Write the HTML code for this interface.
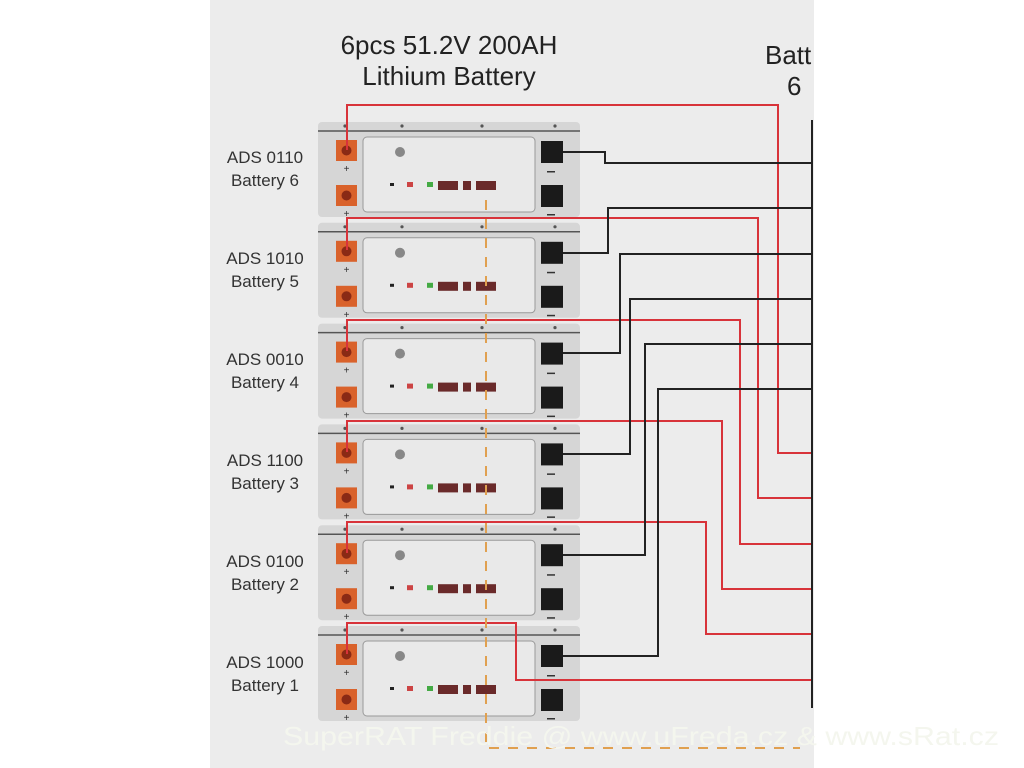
<!DOCTYPE html>
<html><head><meta charset="utf-8"><style>
html,body{margin:0;padding:0;background:#fff;width:1024px;height:768px;overflow:hidden}
svg{display:block;font-family:"Liberation Sans","DejaVu Sans",sans-serif}
</style></head><body>
<svg id="s" width="1024" height="768" viewBox="0 0 1024 768">
<rect x="210" y="0" width="604" height="768" fill="#ececec"/>
<g id="bats"></g>
<g fill="none" stroke-width="2">
<polyline stroke="#d8333a" points="347,150 347,105 778,105 778,453 812,453"/>
<polyline stroke="#d8333a" points="347,250 347,218 758,218 758,498 812,498"/>
<polyline stroke="#d8333a" points="347,351 347,320 740,320 740,544 812,544"/>
<polyline stroke="#d8333a" points="347,452 347,421 722,421 722,589 812,589"/>
<polyline stroke="#d8333a" points="347,553 347,522 706,522 706,634 812,634"/>
<polyline stroke="#d8333a" points="347,654 347,623 516,623 516,680 812,680"/>
<polyline stroke="#222" points="563,152 605,152 605,163 812,163"/>
<polyline stroke="#222" points="563,253 608,253 608,208 812,208"/>
<polyline stroke="#222" points="563,353 620,353 620,254 812,254"/>
<polyline stroke="#222" points="563,454 630,454 630,299 812,299"/>
<polyline stroke="#222" points="563,555 645,555 645,344 812,344"/>
<polyline stroke="#222" points="563,656 658,656 658,389 812,389"/>
<polyline stroke="#e0a050" stroke-dasharray="10,9" points="486,200 486,748 800,748"/>
<line x1="812" y1="120" x2="812" y2="708" stroke="#222"/>
</g>
<g fill="#222" font-size="26" text-anchor="middle">
<text x="449" y="54">6pcs 51.2V 200AH</text>
<text x="449" y="85">Lithium Battery</text>
<text x="765" y="64" text-anchor="start">Batt</text>
<text x="787" y="95" text-anchor="start">6 </text>
</g>
<rect x="814" y="0" width="210" height="768" fill="#fff"/>
<g fill="#333" font-size="17" text-anchor="middle">
<text x="265" y="163">ADS 0110</text><text x="265" y="186">Battery 6</text>
<text x="265" y="264">ADS 1010</text><text x="265" y="287">Battery 5</text>
<text x="265" y="365">ADS 0010</text><text x="265" y="388">Battery 4</text>
<text x="265" y="466">ADS 1100</text><text x="265" y="489">Battery 3</text>
<text x="265" y="567">ADS 0100</text><text x="265" y="590">Battery 2</text>
<text x="265" y="668">ADS 1000</text><text x="265" y="691">Battery 1</text>
</g>
<text x="283" y="745" fill="#f4f6ee" font-size="26" textLength="716" lengthAdjust="spacingAndGlyphs">SuperRAT Freddie   @   www.uFreda.cz   &amp;   www.sRat.cz</text>
</svg>
<script>
var g=document.getElementById('bats'),h='';
for(var i=0;i<6;i++){var y=122+i*100.8;
h+='<rect x="318" y="'+y+'" width="262" height="95" rx="4" fill="#d6d6d6"/>';
h+='<line x1="318" y1="'+(y+9)+'" x2="580" y2="'+(y+9)+'" stroke="#555" stroke-width="1.5"/>';
h+='<rect x="363" y="'+(y+15)+'" width="172" height="75" rx="4" fill="#e9e9e9" stroke="#999"/>';
h+='<rect x="336" y="'+(y+18)+'" width="21" height="21" fill="#d9622b"/><circle cx="346.5" cy="'+(y+28.5)+'" r="5" fill="#8a2a15"/>';
h+='<rect x="336" y="'+(y+63)+'" width="21" height="21" fill="#d9622b"/><circle cx="346.5" cy="'+(y+73.5)+'" r="5" fill="#8a2a15"/>';
h+='<rect x="541" y="'+(y+19)+'" width="22" height="22" fill="#1a1a1a"/><rect x="541" y="'+(y+63)+'" width="22" height="22" fill="#1a1a1a"/>';
h+='<circle cx="400" cy="'+(y+30)+'" r="5" fill="#888"/>';
h+='<rect x="438" y="'+(y+59)+'" width="20" height="9" fill="#6a2a2a"/><rect x="463" y="'+(y+59)+'" width="8" height="9" fill="#6a2a2a"/><rect x="476" y="'+(y+59)+'" width="20" height="9" fill="#6a2a2a"/>';
h+='<rect x="407" y="'+(y+60)+'" width="6" height="5" fill="#c44"/><rect x="427" y="'+(y+60)+'" width="6" height="5" fill="#4a4"/><rect x="390" y="'+(y+61)+'" width="4" height="3" fill="#222"/>';
h+='<text x="346.5" y="'+(y+50)+'" font-size="10" text-anchor="middle" fill="#333">+</text><text x="346.5" y="'+(y+95)+'" font-size="10" text-anchor="middle" fill="#333">+</text>';
h+='<rect x="547" y="'+(y+49)+'" width="8" height="1.5" fill="#333"/><rect x="547" y="'+(y+92)+'" width="8" height="1.5" fill="#333"/>';
[345,402,482,555].forEach(function(x){h+='<circle cx="'+x+'" cy="'+(y+4)+'" r="1.6" fill="#555"/>';});
}
g.innerHTML=h;
</script>
</body></html>
